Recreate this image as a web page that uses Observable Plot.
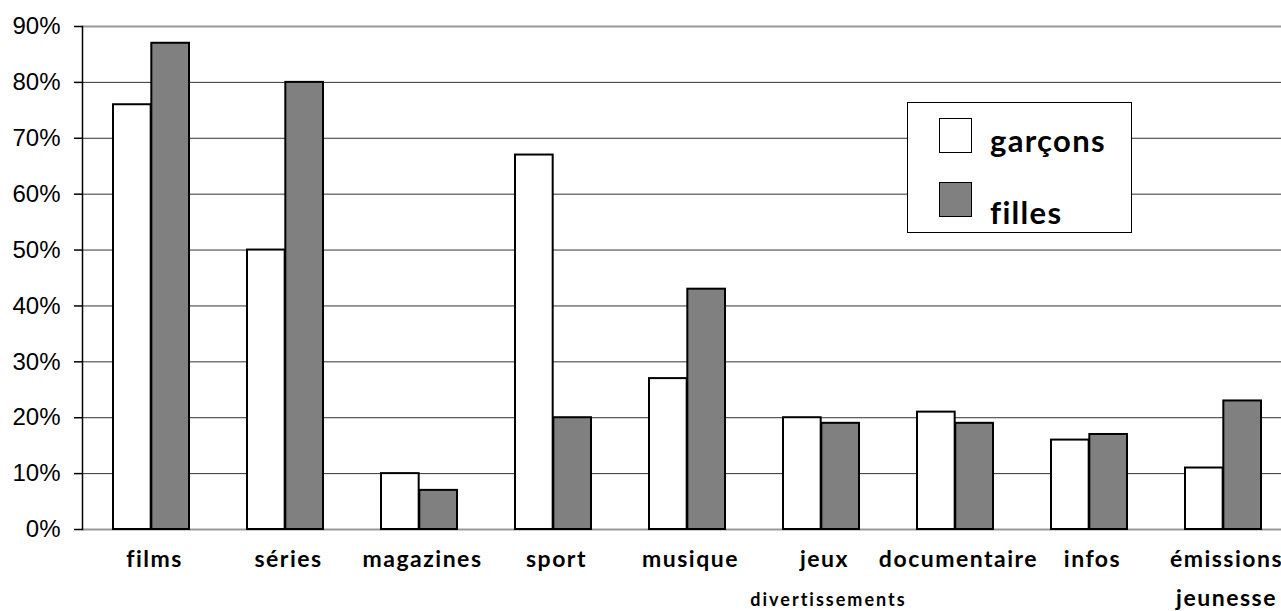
<!DOCTYPE html>
<html><head><meta charset="utf-8">
<script src="https://cdn.jsdelivr.net/npm/d3@7"></script>
<script src="https://cdn.jsdelivr.net/npm/@observablehq/plot@0.6"></script>
<style>
html,body{margin:0;padding:0;background:#fff;overflow:hidden;}
#wrap{position:relative;width:1281px;height:611px;overflow:hidden;}
#wrap svg{max-width:none;}
#legend{position:absolute;left:907px;top:102px;width:223px;height:129px;border:1.5px solid #000;background:#fff;font-family:Lato,sans-serif;font-weight:bold;font-size:31px;letter-spacing:1.3px;color:#000;}
.sw{position:absolute;left:31px;width:31px;height:33px;border:1.5px solid #000;}
.lt{position:absolute;left:82px;line-height:1;}
</style></head><body><div id="wrap"></div>
<script>
const categories = ["films","séries","magazines","sport","musique","jeux divertissements","documentaire","infos","émissions jeunesse"];
const line1 = ["films","séries","magazines","sport","musique","jeux","documentaire","infos","émissions"];
const line2 = ["","","","","","divertissements","","","jeunesse"];
const series = ["garçons","filles"];
const garcons = [76,50,10,67,27,20,21,16,11];
const filles = [87,80,7,20,43,19,19,17,23];
const yTicks = [0,10,20,30,40,50,60,70,80,90];
const colors = ["#ffffff","#808080"];

const W = 1292, H = 611, ML = 82, MR = 0, MT = 26, MB = 82;
const xOpts = {type:"band", domain: categories, paddingInner: 0.43, paddingOuter: 0.215};
const xs = Plot.scale({x: {...xOpts, range: [ML, W - MR]}});
const half = xs.bandwidth / 2;

const dataG = categories.map((c,i)=>({cat:c, serie:series[0], value:garcons[i]}));
const dataF = categories.map((c,i)=>({cat:c, serie:series[1], value:filles[i]}));
const labels = categories.map((c,i)=>({cat:c, l1:line1[i], l2:line2[i]}));

const chart = Plot.plot({
  width: W, height: H,
  marginLeft: ML, marginRight: MR, marginTop: MT, marginBottom: MB,
  style: {background:"#fff", maxWidth:"none"},
  x: {...xOpts, axis: null},
  y: {domain: [0,90], axis: null},
  color: {domain: series, range: colors},
  marks: [
    Plot.ruleY(yTicks.slice(1,-1), {stroke:"#333", strokeWidth:1}),
    Plot.ruleY([yTicks[0], yTicks[yTicks.length-1]], {stroke:"#999", strokeWidth:2}),
    Plot.frame({anchor:"left", stroke:"#000", strokeWidth:1.5}),
    Plot.axisY(yTicks, {label: null, tickFormat: d => d + "%", tickSize: 8, tickPadding: 14, fontSize: 24, fontFamily: "'Liberation Sans', Arial, sans-serif", color: "#000", strokeWidth: 1.5}),
    Plot.barY(dataG, {x:"cat", y:"value", fill:"serie", stroke:"#000", strokeWidth:2, insetRight: half}),
    Plot.barY(dataF, {x:"cat", y:"value", fill:"serie", stroke:"#000", strokeWidth:2, insetLeft: half}),
    Plot.text(labels, {x:"cat", text:"l1", frameAnchor:"bottom", dy:37, dx:3, fontSize:23, fontWeight:"bold", fontFamily:"Lato, sans-serif", fill:"#000"}),
    Plot.text(labels.filter(d=>d.l2==="divertissements"), {x:"cat", text:"l2", frameAnchor:"bottom", dy:76, dx:7, fontSize:18, fontWeight:"bold", fontFamily:"Lato, sans-serif", fill:"#000"}),
    Plot.text(labels.filter(d=>d.l2==="jeunesse"), {x:"cat", text:"l2", frameAnchor:"bottom", dy:76, dx:3, fontSize:23, fontWeight:"bold", fontFamily:"Lato, sans-serif", fill:"#000"})
  ]
});
const wrap = document.getElementById("wrap");
wrap.appendChild(chart);
d3.select(chart).selectAll("text").filter(function(){return line1.includes(this.textContent) || line2.includes(this.textContent);})
  .attr("letter-spacing", function(){return this.textContent==="divertissements" ? "2" : "1.5";});

const legend = document.createElement("div");
legend.id = "legend";
series.forEach((s,i)=>{
  const sw = document.createElement("div");
  sw.className = "sw";
  sw.style.top = (i===0 ? 15 : 79) + "px";
  sw.style.background = colors[i];
  legend.appendChild(sw);
  const t = document.createElement("div");
  t.className = "lt";
  t.style.top = (i===0 ? 22 : 94) + "px";
  t.textContent = s;
  legend.appendChild(t);
});
wrap.appendChild(legend);
</script>
</body></html>
